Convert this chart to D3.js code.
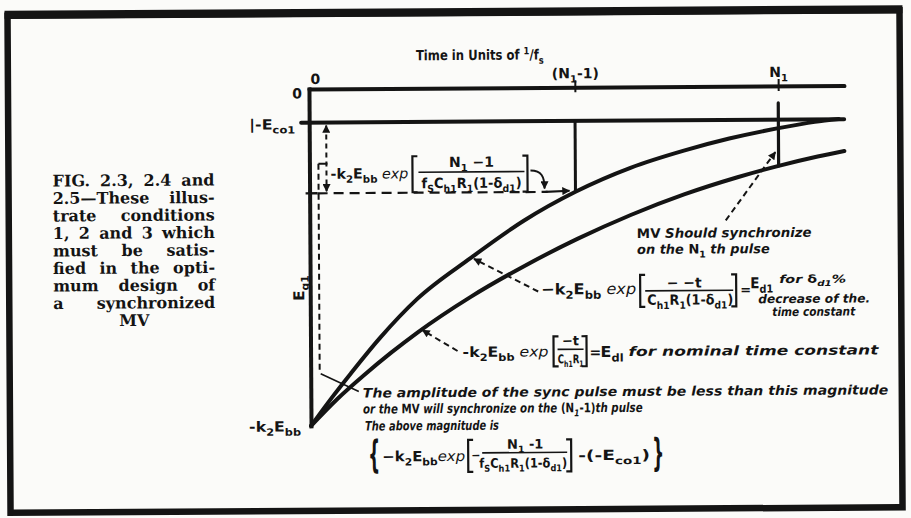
<!DOCTYPE html>
<html><head><meta charset="utf-8">
<script src="https://cdn.jsdelivr.net/npm/d3@7"></script>
<style>
html,body{margin:0;padding:0;background:#fbfbf9;}
svg{display:block;}
</style></head><body>
<svg id="chart" width="911" height="518"></svg>
<script>
// Time axis, in units of 1/fs: origin and the two pulses of interest
const tickT = [0, 4.97, 8.77];
const tickLabels = [[["0"]], [["(N"], ["1", "s"], ["-1)"]], [["N"], ["1", "s"]]];

// Grid voltage levels, normalised to k2·Ebb
const levelV = [0, -0.1, -1];
const levelLabels = [[["0"]], [["|-E"], ["co1", "s"]], [["-k"], ["2", "s"], ["E"], ["bb", "s"]]];

// Grid recovery with the time constant reduced by δd1 %
const shortT = [0, 0.4, 0.75, 1.3, 2, 3, 4, 4.97, 6, 7, 7.85, 8.77, 9.45, 9.9];
const shortV = [-1, -0.915, -0.845, -0.74, -0.625, -0.505, -0.395, -0.31, -0.24, -0.19, -0.155, -0.125, -0.107, -0.099];

// Grid recovery with the nominal time constant
const nominalT = [0, 0.5, 1, 1.5, 2, 3, 4, 5, 6, 7, 8, 8.77, 9.5, 10];
const nominalV = [-1, -0.92, -0.85, -0.785, -0.725, -0.62, -0.53, -0.45, -0.38, -0.32, -0.27, -0.237, -0.21, -0.194];

const captionLines = ["FIG. 2.3, 2.4 and", "2.5\u2014These illus-", "trate conditions", "1, 2 and 3 which",
  "must be satis-", "fied in the opti-", "mum design of", "a synchronized", "MV"];

const INK = "#141414";
const SANS = "'DejaVu Sans', 'Liberation Sans', sans-serif";
const SERIF = "'DejaVu Serif', 'Liberation Serif', serif";

const svg = d3.select("#chart");
const defs = svg.append("defs");
defs.append("marker").attr("id", "ah").attr("viewBox", "0 0 10 10")
  .attr("refX", 9).attr("refY", 5).attr("markerWidth", 10).attr("markerHeight", 8)
  .attr("markerUnits", "userSpaceOnUse").attr("orient", "auto-start-reverse")
  .append("path").attr("d", "M0,0L10,5L0,10z").attr("fill", INK);

const root = svg.append("g").attr("transform", "rotate(-0.35 455 259)");

// page border
root.append("rect").attr("x", 9).attr("y", 13).attr("width", 892).attr("height", 497)
  .attr("fill", "none").attr("stroke", INK).attr("stroke-width", 6.5);
root.append("line").attr("x1", 6).attr("x2", 904).attr("y1", 12).attr("y2", 12)
  .attr("stroke", INK).attr("stroke-width", 8);

// rich text: parts are [string, style]; style letters: s=subscript, u=superscript,
// i=italic, r=upright, l=light weight.  o.width fits the run to a width, either by
// widening the word gaps (o.justify) or by a horizontal scale.
function txt(g, x, y, parts, o = {}) {
  const size = o.size || 13;
  const t = g.append("text").attr("x", x).attr("y", y)
    .attr("font-family", o.family || SANS).attr("font-size", size)
    .attr("font-weight", o.weight || "bold")
    .attr("font-style", o.italic ? "italic" : "normal")
    .attr("text-anchor", o.anchor || "start").attr("fill", INK);
  let shift = 0;
  (typeof parts === "string" ? [[parts]] : parts).forEach(([s, st = ""]) => {
    const off = st.includes("s") ? size * 0.3 : st.includes("u") ? -size * 0.38 : 0;
    const sp = t.append("tspan").text(s).attr("dy", off - shift);
    shift = off;
    if (st.includes("s") || st.includes("u")) sp.attr("font-size", size * 0.72);
    if (st.includes("i")) sp.attr("font-style", "italic");
    if (st.includes("r")) sp.attr("font-style", "normal");
    if (st.includes("l")) sp.attr("font-weight", "normal");
  });
  if (o.width) {
    const w = t.node().getComputedTextLength();
    const gaps = (t.text().match(/ /g) || []).length;
    if (o.justify && gaps && w < o.width) {
      t.attr("word-spacing", (o.width - w) / gaps);
    } else {
      t.attr("transform", `translate(${x},0) scale(${o.width / w},1) translate(${-x},0)`);
    }
  }
  return t;
}
function bracket(g, x, y0, y1, dir) {
  g.append("path").attr("d", `M${x + dir * 5},${y0}H${x}V${y1}H${x + dir * 5}`)
    .attr("fill", "none").attr("stroke", INK).attr("stroke-width", 2.2);
}
function rule(g, x1, x2, y, w = 1.6) {
  g.append("line").attr("x1", x1).attr("x2", x2).attr("y1", y).attr("y2", y)
    .attr("stroke", INK).attr("stroke-width", w);
}

// caption
const cap = root.append("g");
captionLines.forEach((s, i) => {
  const last = i === captionLines.length - 1;
  txt(cap, last ? 134 : 53, 184 + i * 17.5, s, {
    family: SERIF, size: 16, anchor: last ? "middle" : "start",
    width: last ? null : 162, justify: true
  });
});

// scales
const x = d3.scaleLinear().domain([0, 10]).range([310, 845]);
const y = d3.scaleLinear().domain([0, -1]).range([88, 425]);

// time axis along the top
const topAxis = root.append("g").attr("transform", `translate(0,${y(0)})`)
  .call(d3.axisTop(x).tickValues(tickT).tickSizeInner(7).tickSizeOuter(0));
topAxis.select(".domain").attr("stroke", INK).attr("stroke-width", 4).attr("stroke-linecap", "round");
topAxis.selectAll(".tick line").attr("stroke", INK).attr("stroke-width", 2).attr("y1", 5)
  .attr("opacity", d => d === 0 ? 0 : 1);
topAxis.selectAll(".tick text").remove();
topAxis.selectAll(".tick").each(function (d, i) {
  txt(d3.select(this), i === 0 ? 6 : 0, i === 0 ? -5 : -9, tickLabels[i], { anchor: "middle", size: 14 });
});
txt(root, 481, 60, [["Time in Units of "], ["1", "u"], ["/f"], ["s", "s"]], { anchor: "middle", size: 14, width: 128 });

// voltage axis down the left
const leftAxis = root.append("g").attr("transform", `translate(${x(0)},0)`)
  .call(d3.axisLeft(y).tickValues(levelV).tickSize(0));
leftAxis.select(".domain").attr("stroke", INK).attr("stroke-width", 4).attr("stroke-linecap", "square");
leftAxis.selectAll(".tick text").remove();
leftAxis.selectAll(".tick").each(function (d, i) {
  const g = d3.select(this);
  if (i === 0) txt(g, -7, 9, levelLabels[i], { anchor: "end", size: 14 });
  if (i === 1) txt(g, -14, 6, levelLabels[i], { anchor: "end", size: 14, width: 46 });
  if (i === 2) txt(g, -10, 5, levelLabels[i], { anchor: "end", size: 14, width: 52 });
});
txt(root, 0, 0, [["E"], ["g1", "s"]], { anchor: "middle", size: 15 })
  .attr("transform", "translate(304,287) rotate(-90)");

// -Eco1 cut-off level
root.append("line").attr("x1", x(0) - 8).attr("x2", x(10)).attr("y1", y(levelV[1])).attr("y2", y(levelV[1]))
  .attr("stroke", INK).attr("stroke-width", 4).attr("stroke-linecap", "round");

// recovery curves
const line = d3.line().x(d => x(d[0])).y(d => y(d[1])).curve(d3.curveMonotoneX);
root.append("path").datum(shortT.map((t, i) => [t, shortV[i]])).attr("d", line)
  .attr("fill", "none").attr("stroke", INK).attr("stroke-width", 4).attr("stroke-linecap", "round");
root.append("path").datum(nominalT.map((t, i) => [t, nominalV[i]])).attr("d", line)
  .attr("fill", "none").attr("stroke", INK).attr("stroke-width", 4).attr("stroke-linecap", "round");

// pulse markers
const prevIdx = shortT.indexOf(tickT[1]);
const nthIdx = nominalT.indexOf(tickT[2]);
const vPrev = shortV[prevIdx], vNth = nominalV[nthIdx];
root.append("line").attr("x1", x(tickT[1])).attr("x2", x(tickT[1]))
  .attr("y1", y(levelV[1])).attr("y2", y(vPrev)).attr("stroke", INK).attr("stroke-width", 3);
root.append("line").attr("x1", x(tickT[2])).attr("x2", x(tickT[2]))
  .attr("y1", y(-0.05)).attr("y2", y(vNth)).attr("stroke", INK).attr("stroke-width", 3.2)
  .attr("stroke-linecap", "round");

// annotations
const ann = root.append("g");
function seg(x1, y1, x2, y2, o = {}) {
  const l = ann.append("line").attr("x1", x1).attr("y1", y1).attr("x2", x2).attr("y2", y2)
    .attr("stroke", INK).attr("stroke-width", o.w || 2);
  if (o.dash) l.attr("stroke-dasharray", o.dash);
  if (o.end) l.attr("marker-end", "url(#ah)");
  if (o.start) l.attr("marker-start", "url(#ah)");
  return l;
}
const yPrev = y(vPrev);
seg(x(0) - 4, yPrev, x(0) + 8, yPrev, { w: 2.4 });
seg(x(0) + 8, yPrev, 548, yPrev, { dash: "10,6", w: 2.2 });
seg(546, yPrev, x(tickT[1]) - 6, yPrev - 1, { w: 2.2, end: true });
seg(327, y(levelV[1]) + 3, 327, yPrev - 2, { dash: "5,4", w: 2, start: true, end: true });
seg(319, 163, 328, 163, { w: 2 });
seg(319, 163, 319, 373, { dash: "6,4", w: 2 });
seg(320, 373, 358, 391, { w: 1.6 });
ann.append("path").attr("d", "M531,171C542,171 545,177 545,189").attr("fill", "none")
  .attr("stroke", INK).attr("stroke-width", 2).attr("marker-end", "url(#ah)");
seg(538, 292, 474, 259, { dash: "6,4", w: 2, end: true });
seg(457, 351, 422, 330, { dash: "6,4", w: 2, end: true });
seg(726, 222, 776, 154, { dash: "6,4", w: 2, end: true });

// dimension formula
txt(ann, 331, 178, [["-k"], ["2", "s"], ["E"], ["bb", "s"], [" exp", "il"]], { size: 14, width: 78 });
bracket(ann, 413, 156, 192, 1);
txt(ann, 472, 167, [["N"], ["1", "s"], [" \u22121"]], { anchor: "middle", size: 14 });
rule(ann, 419, 525, 172);
txt(ann, 472, 188, [["f"], ["S", "s"], ["C"], ["h1", "s"], ["R"], ["1", "s"], ["(1-\u03b4"], ["d1", "s"], [")"]], { anchor: "middle", size: 14, width: 100 });
bracket(ann, 528, 156, 192, -1);

// reduced time-constant curve formula
txt(ann, 541, 295, [["\u2212k"], ["2", "s"], ["E"], ["bb", "s"], [" exp", "il"]], { size: 15, width: 95 });
bracket(ann, 640, 276, 308, 1);
txt(ann, 684, 289, "\u2212  \u2212t", { anchor: "middle", size: 14 });
rule(ann, 645, 733, 292);
txt(ann, 690, 306, [["C"], ["h1", "s"], ["R"], ["1", "s"], ["(1-\u03b4"], ["d1", "s"], [")"]], { anchor: "middle", size: 14, width: 86 });
bracket(ann, 736, 276, 308, -1);
txt(ann, 740, 296, "=", { size: 13 });
txt(ann, 750, 290, [["E"], ["d1", "s"]], { size: 15, width: 23 });
txt(ann, 779, 285, [["for "], ["\u03b4", "r"], ["d1", "s"], ["%"]], { italic: true, size: 11, width: 67 });
txt(ann, 758, 305, "decrease of the.", { italic: true, size: 12, width: 112 });
txt(ann, 772, 318, "time constant", { italic: true, size: 12, width: 83 });

// nominal curve formula
txt(ann, 462, 357, [["-k"], ["2", "s"], ["E"], ["bb", "s"], [" exp", "il"]], { size: 14, width: 86 });
bracket(ann, 553, 337, 367, 1);
txt(ann, 570, 346, "\u2212t", { anchor: "middle", size: 13 });
rule(ann, 557, 583, 350);
txt(ann, 570, 364, [["C"], ["h1", "s"], ["R"], ["1", "s"]], { anchor: "middle", size: 12, width: 26 });
bracket(ann, 586, 337, 367, -1);
txt(ann, 589, 358, "=", { size: 14 });
txt(ann, 600, 358, [["E"], ["dl", "s"]], { size: 15, width: 23 });
txt(ann, 628, 357, "for nominal time constant", { italic: true, size: 13, width: 250 });

// synchronising note
txt(ann, 637, 239, [["MV "], ["Should synchronize", "i"]], { size: 13, width: 175 });
txt(ann, 637, 255, [["on the ", "i"], ["N"], ["1", "s"], [" th pulse", "i"]], { size: 13, width: 133 });

// sync pulse amplitude note
txt(ann, 362, 397, "The amplitude of the sync pulse must be less than this magnitude", { italic: true, size: 13, width: 526 });
txt(ann, 362, 413, [["or the "], ["MV", "r"], [" will synchronize on the "], ["(N", "r"], ["1", "s"], ["-1)", "r"], ["th pulse"]], { italic: true, size: 13, width: 280 });
txt(ann, 364, 430, "The above magnitude is", { italic: true, size: 13, width: 134 });

txt(ann, 367, 467, "{", { size: 38, weight: "bold", width: 12 });
txt(ann, 381, 461, [["\u2212k"], ["2", "s"], ["E"], ["bb", "s"], ["exp", "il"]], { size: 14, width: 83 });
bracket(ann, 467, 440, 472, 1);
txt(ann, 470, 459, "\u2212", { size: 11 });
txt(ann, 524, 449, [["N"], ["1", "s"], [" -1"]], { anchor: "middle", size: 13 });
rule(ann, 481, 566, 453);
txt(ann, 522, 468, [["f"], ["S", "s"], ["C"], ["h1", "s"], ["R"], ["1", "s"], ["(1-\u03b4"], ["d1", "s"], [")"]], { anchor: "middle", size: 13, width: 88 });
bracket(ann, 570, 440, 472, -1);
txt(ann, 577, 461, [["-(-E"], ["co1", "s"], [")"]], { size: 14, width: 72 });
txt(ann, 651, 467, "}", { size: 38, weight: "bold", width: 12 });
</script>
</body></html>
